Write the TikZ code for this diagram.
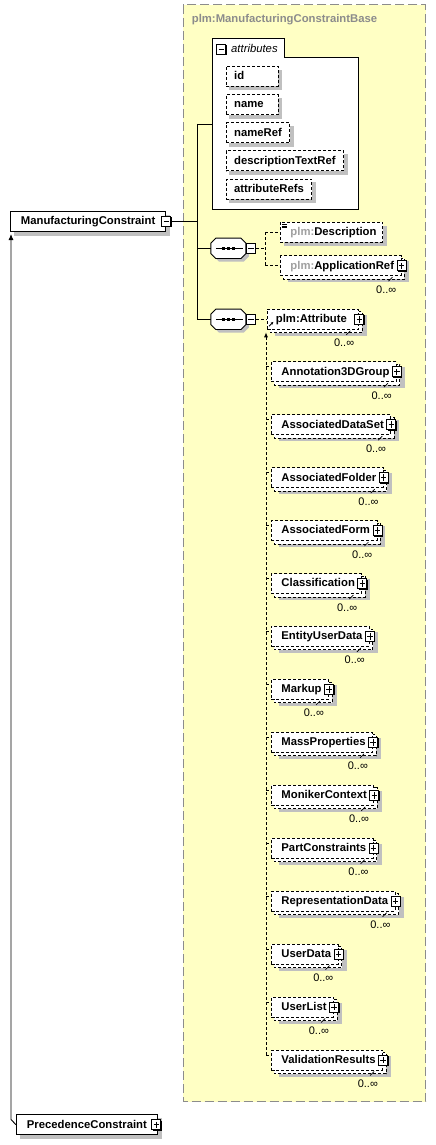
\documentclass[tikz,border=0pt]{standalone}
\usepackage{fontspec}
\setmainfont{Liberation Sans}
\usetikzlibrary{arrows.meta}
\definecolor{ybg}{HTML}{FFFFC4}
\definecolor{yline}{HTML}{8C8C8C}
\definecolor{shad}{HTML}{C0C0C0}
\definecolor{pfx}{HTML}{A0A0A0}
\pgfdeclarelayer{bg}\pgfdeclarelayer{shl}\pgfdeclarelayer{bk}
\pgfsetlayers{bg,shl,bk,main}
\tikzset{
 dsh/.style={dash pattern=on 3pt off 2pt},
 elfont/.style={font=\fontsize{11.3}{13}\selectfont\bfseries},
 basebox/.style={draw, fill=white, elfont, anchor=west, minimum height=20pt, inner ysep=0pt, text height=9pt, text depth=2.2pt, line width=0.9pt},
 topel/.style={basebox, inner xsep=10.5pt},
 subel/.style={basebox, dsh, inner xsep=7pt},
 attel/.style={basebox, dsh, inner xsep=8pt},
 pbox/.style={draw, fill=white, minimum width=9pt, minimum height=10pt, inner sep=0pt, line width=0.8pt,
   preaction={fill=black, transform canvas={shift={(1pt,-1pt)}}}},
 plusbox/.style={pbox, path picture={
   \draw[line width=0.8pt] ([xshift=1.8pt]path picture bounding box.west) -- ([xshift=-1.8pt]path picture bounding box.east);
   \draw[line width=0.8pt] ([yshift=-1.8pt]path picture bounding box.north) -- ([yshift=1.8pt]path picture bounding box.south);}},
 minusbox/.style={pbox, path picture={
   \draw[line width=0.8pt] ([xshift=1.8pt]path picture bounding box.west) -- ([xshift=-1.8pt]path picture bounding box.east);}},
 mult/.style={font=\fontsize{11}{13}\selectfont, inner sep=0pt, anchor=base east},
 conn/.style={line width=0.9pt},
 dconn/.style={line width=0.9pt, dsh},
 seqn/.style={minimum width=34.7pt, minimum height=20pt, inner sep=0pt},
}
\newcommand\manyel[5]{%
 \node[subel] (#1) at (#2,#3) {\kern#5pt #4};
 \begin{pgfonlayer}{bk}
   \draw[dsh, fill=white, line width=0.9pt] ([shift={(3,3)}]#1.north west) rectangle ([shift={(3,3)}]#1.south east);
 \end{pgfonlayer}
 \begin{pgfonlayer}{shl}
   \fill[shad] ([shift={(8,6)}]#1.north west) rectangle ([shift={(8,6)}]#1.south east);
 \end{pgfonlayer}
 \node[plusbox] (#1p) at (#1.east) {};
 \node[mult] (#1m) at ([shift={(-5,27.5)}]#1.east) {0..∞};
 \draw[line width=0.7pt] ([shift={(-13,15.5)}]#1.east) -- ([shift={(-9,11.5)}]#1.east);
}
\newcommand\oneshadow[2]{%
 \begin{pgfonlayer}{shl}
   \fill[shad] ([shift={(#2,#2)}]#1.north west) rectangle ([shift={(#2,#2)}]#1.south east);
 \end{pgfonlayer}
}
\newcommand\seqoct[3]{%
 \node[seqn] (#1) at (#2,#3) {};
 \begin{pgfonlayer}{shl}
  \fill[shad, transform canvas={shift={(3pt,-3pt)}}] ([shift={(5,0)}]#1.north west) -- ([shift={(-5,0)}]#1.north east) -- ([shift={(0,5)}]#1.north east) -- ([shift={(0,-5)}]#1.south east) -- ([shift={(-5,0)}]#1.south east) -- ([shift={(5,0)}]#1.south west) -- ([shift={(0,-5)}]#1.south west) -- ([shift={(0,5)}]#1.north west) -- cycle;
 \end{pgfonlayer}
 \draw[fill=white, line width=0.9pt] ([shift={(5,0)}]#1.north west) -- ([shift={(-5,0)}]#1.north east) -- ([shift={(0,5)}]#1.north east) -- ([shift={(0,-5)}]#1.south east) -- ([shift={(-5,0)}]#1.south east) -- ([shift={(5,0)}]#1.south west) -- ([shift={(0,-5)}]#1.south west) -- ([shift={(0,5)}]#1.north west) -- cycle;
 \draw[line width=0.9pt] ([xshift=5pt]#1.west) -- ([xshift=-2.7pt]#1.east);
 \foreach \dx in {-4.8,0,4.8} \fill ([shift={(\dx-1.6,-1.6)}]#1.center) rectangle ([shift={(\dx+1.6,1.6)}]#1.center);
 \node[minusbox] (#1m) at ([xshift=5pt]#1.east) {};
}
\begin{document}
\begin{tikzpicture}[x=1pt,y=-1pt]
\useasboundingbox (0,0) rectangle (436,1145);
% yellow complex type area
\begin{pgfonlayer}{bg}
 \draw[fill=ybg, draw=yline, line width=1pt, dash pattern=on 9pt off 4pt] (183,5) rectangle (425.7,1101.5);
 \draw[fill=white, line width=0.9pt] (212,38) -- (284,38) -- (284,57) -- (358,57) -- (358,209) -- (212,209) -- cycle;
\end{pgfonlayer}
\node[anchor=base west, inner sep=0pt, text=yline, elfont] (title) at (191.7,23) {plm:ManufacturingConstraintBase};
% attributes group
\node[minusbox] (attm) at (221.3,49) {};
\node[anchor=base west, inner sep=0pt, font=\fontsize{11.3}{13}\selectfont\itshape] (attt) at (231,52.3) {attributes};
\node[attel] (a1) at (225.7,76.5) {\makebox[36pt][l]{id}};
\node[attel] (a2) at (225.7,104.6) {\makebox[36pt][l]{name}};
\node[attel] (a3) at (225.7,132.8) {nameRef};
\node[attel] (a4) at (225.7,160.9) {descriptionTextRef};
\node[attel] (a5) at (225.7,189) {attributeRefs};
\foreach \n in {a1,a2,a3,a4,a5} {\oneshadow{\n}{3.5}}
% main element
\node[topel] (mc) at (10,221.3) {ManufacturingConstraint};
\oneshadow{mc}{4}
\node[minusbox] (mcm) at (mc.east) {};
\node[topel] (pc) at (16,1124.7) {PrecedenceConstraint};
\oneshadow{pc}{4}
\node[plusbox] (pcp) at ([xshift=-1.5pt]pc.east) {};
% sequences
\seqoct{s1}{228.35}{248.3}
\seqoct{s2}{228.35}{319.3}
% first sequence children
\node[subel] (desc) at (280,232) {\kern3pt{\color{pfx}plm:}Description\kern-0.7pt};
\oneshadow{desc}{4}
\draw[line width=0.6pt] ([shift={(2,2.5)}]desc.north west) -- ++(4.5,0);
\draw[line width=0.6pt] ([shift={(2,4.3)}]desc.north west) -- ++(4.5,0);
\draw[line width=0.6pt] ([shift={(2,6.1)}]desc.north west) -- ++(4.5,0);
\manyel{appref}{280}{265.7}{{\color{pfx}plm:}ApplicationRef}{3}
% second sequence child
\manyel{attr}{267}{319.3}{plm:Attribute\kern5pt}{1.5}
\draw[line width=0.8pt, -{Latex[length=2.8pt,width=2.8pt]}] ([shift={(2,-3.5)}]attr.south west) -- ++(4.5,-4.5);
% substitution group members
\manyel{e1}{271}{371.7}{Annotation3DGroup}{3}
\manyel{e2}{271}{424.65}{AssociatedDataSet}{3}
\manyel{e3}{271}{477.6}{AssociatedFolder}{3}
\manyel{e4}{271}{530.55}{AssociatedForm}{3}
\manyel{e5}{271}{583.5}{Classification}{3}
\manyel{e6}{271}{636.45}{EntityUserData}{3}
\manyel{e7}{271}{689.4}{Markup}{3}
\manyel{e8}{271}{742.35}{MassProperties}{3}
\manyel{e9}{271}{795.3}{MonikerContext}{3}
\manyel{e10}{271}{848.25}{PartConstraints}{3}
\manyel{e11}{271}{901.2}{RepresentationData}{3}
\manyel{e12}{271}{954.15}{UserData}{3}
\manyel{e13}{271}{1007.1}{UserList}{3}
\manyel{e14}{271}{1060.05}{ValidationResults}{3}
% connectors
\coordinate (jt) at (197,124);
\coordinate (jb) at (197,319.3);
\coordinate (attrL) at (212,124);
\draw[conn] (mcm.east) -- (mcm.east -| jt);
\draw[conn] (jt) -- (jb);
\draw[conn] (jt) -- (attrL);
\draw[conn] (jt |- s1.west) -- (s1.west);
\draw[conn] (jb) -- (s2.west);
\coordinate (dv) at (265,248.3);
\draw[dconn] (s1m.east) -- (dv);
\draw[dconn] (dv |- desc.west) -- (dv |- appref.west);
\draw[dconn] (dv |- desc.west) -- (desc.west);
\draw[dconn] (dv |- appref.west) -- (appref.west);
\draw[dconn] (s2m.east) -- (attr.west);
\coordinate (vtop) at (266,332.3);
\draw[dconn, -{Latex[length=5pt,width=4pt]}] ([shift={(-5,-5)}]e14.west) -- (vtop);
\foreach \n in {e1,e2,e3,e4,e5,e6,e7,e8,e9,e10,e11,e12,e13,e14} {
  \draw[dconn] ([shift={(-5,-5)}]\n.west) -- ([shift={(0,-5)}]\n.west);
}
\coordinate (pcb) at (11,1119.5);
\coordinate (mctip) at (11,234);
\draw[conn, -{Latex[length=6pt,width=5pt]}] (pc.west) -- (pcb) -- (mctip);
\end{tikzpicture}
\end{document}
